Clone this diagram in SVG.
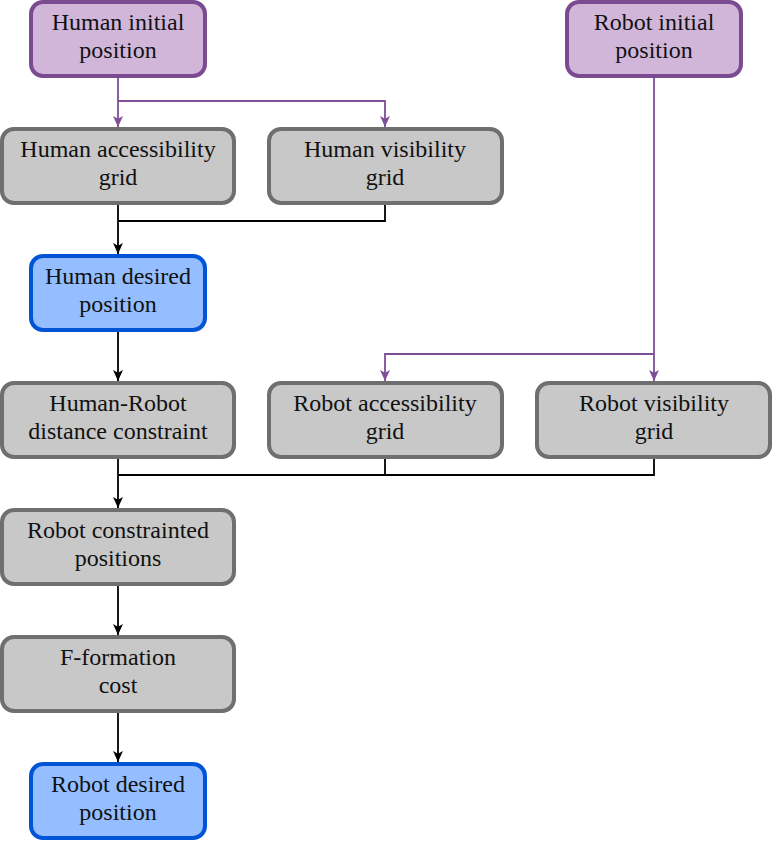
<svg xmlns="http://www.w3.org/2000/svg" width="772" height="841" viewBox="0 0 772 841">
<style>
.box rect{stroke-width:4}
.purple rect{fill:#D1B6DA;stroke:#7B4B92}
.gray rect{fill:#C8C8C8;stroke:#6F6F6F}
.blue rect{fill:#94BEFF;stroke:#0055D6}
.t text{font-family:'Liberation Serif','DejaVu Serif',serif;font-size:24px;fill:#111;text-anchor:middle}
.pl{fill:none;stroke:#7F4F96;stroke-width:1.8}
.bl{fill:none;stroke:#000;stroke-width:1.8}
</style>
<defs>
<marker id="ap" viewBox="0 0 10 10" refX="10" refY="5" markerWidth="11" markerHeight="11" markerUnits="userSpaceOnUse" orient="auto">
<path d="M0,0.5 L10,5 L0,9.5 L2.5,5 Z" fill="#7F4F96"/>
</marker>
<marker id="ab" viewBox="0 0 10 10" refX="10" refY="5" markerWidth="11" markerHeight="11" markerUnits="userSpaceOnUse" orient="auto">
<path d="M0,0.5 L10,5 L0,9.5 L2.5,5 Z" fill="#000"/>
</marker>
</defs>
<g id="connectors">
<path class="pl" d="M118,76 V127" marker-end="url(#ap)"/>
<path class="pl" d="M118,101 H385 V127" marker-end="url(#ap)"/>
<path class="pl" d="M654,76 V381" marker-end="url(#ap)"/>
<path class="pl" d="M654,354 H385 V381" marker-end="url(#ap)"/>
<path class="bl" d="M118,203 V254" marker-end="url(#ab)"/>
<path class="bl" d="M385,203 V221 H118"/>
<path class="bl" d="M118,330 V381" marker-end="url(#ab)"/>
<path class="bl" d="M118,457 V508" marker-end="url(#ab)"/>
<path class="bl" d="M385,457 V475 H118"/>
<path class="bl" d="M654,457 V475 H385"/>
<path class="bl" d="M118,584 V635" marker-end="url(#ab)"/>
<path class="bl" d="M118,711 V762" marker-end="url(#ab)"/>
</g>
<g class="t" font-family="Liberation Serif, DejaVu Serif, serif">
<g id="human-initial" class="box purple"><rect x="31" y="2" width="174" height="74" rx="12"/><text x="118" y="30">Human initial</text><text x="118" y="58">position</text></g>
<g id="robot-initial" class="box purple"><rect x="567" y="2" width="174" height="74" rx="12"/><text x="654" y="30">Robot initial</text><text x="654" y="58">position</text></g>
<g id="human-access" class="box gray"><rect x="2" y="129" width="232" height="74" rx="12"/><text x="118" y="157">Human accessibility</text><text x="118" y="185">grid</text></g>
<g id="human-vis" class="box gray"><rect x="269" y="129" width="233" height="74" rx="12"/><text x="385" y="157">Human visibility</text><text x="385" y="185">grid</text></g>
<g id="human-desired" class="box blue"><rect x="31" y="256" width="174" height="74" rx="12"/><text x="118" y="284">Human desired</text><text x="118" y="312">position</text></g>
<g id="hr-distance" class="box gray"><rect x="2" y="383" width="232" height="74" rx="12"/><text x="118" y="411">Human-Robot</text><text x="118" y="439">distance constraint</text></g>
<g id="robot-access" class="box gray"><rect x="269" y="383" width="233" height="74" rx="12"/><text x="385" y="411">Robot accessibility</text><text x="385" y="439">grid</text></g>
<g id="robot-vis" class="box gray"><rect x="537" y="383" width="233" height="74" rx="12"/><text x="654" y="411">Robot visibility</text><text x="654" y="439">grid</text></g>
<g id="robot-constrained" class="box gray"><rect x="2" y="510" width="232" height="74" rx="12"/><text x="118" y="538">Robot constrainted</text><text x="118" y="566">positions</text></g>
<g id="f-formation" class="box gray"><rect x="2" y="637" width="232" height="74" rx="12"/><text x="118" y="665">F-formation</text><text x="118" y="693">cost</text></g>
<g id="robot-desired" class="box blue"><rect x="31" y="764" width="174" height="74" rx="12"/><text x="118" y="792">Robot desired</text><text x="118" y="820">position</text></g>
</g>
</svg>
